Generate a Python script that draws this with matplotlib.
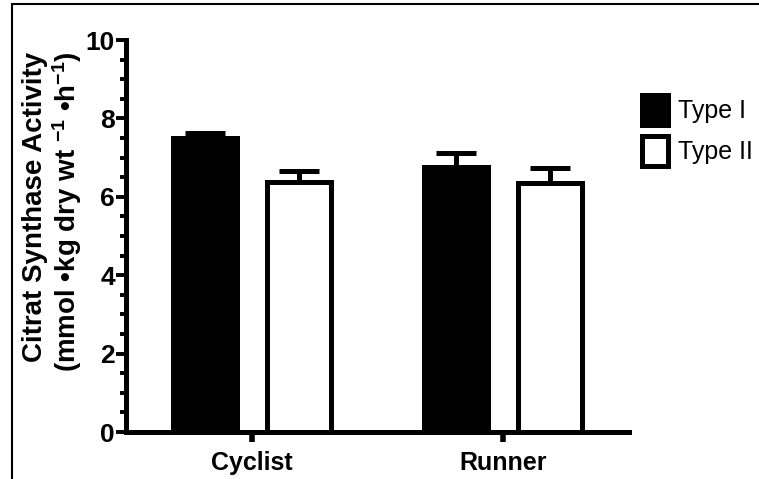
import matplotlib
matplotlib.use('Agg')
import matplotlib.pyplot as plt
import numpy as np
from matplotlib.patches import Rectangle
from matplotlib.ticker import MultipleLocator

# data
groups = ['Cyclist', 'Runner']
series = ['Type I', 'Type II']
type1 = [7.49, 6.75]
type1_err = [0.14, 0.37]
type2 = [6.39, 6.35]
type2_err = [0.28, 0.38]
yticks = [0, 2, 4, 6, 8, 10]

plt.rcParams['font.family'] = ['Liberation Sans', 'DejaVu Sans']
plt.rcParams['mathtext.fontset'] = 'custom'
plt.rcParams['mathtext.rm'] = 'Liberation Sans:bold'
plt.rcParams['mathtext.default'] = 'rm'

fig = plt.figure(figsize=(7.59, 4.79), dpi=100)
ax = fig.add_axes([0.166, 0.098, 0.6627, 0.8184])

x = np.arange(len(groups))
off = 0.1875
w = 0.254
lw = 3.6

ax.bar(x - off, type1, w, color='black', edgecolor='black', linewidth=lw,
       label=series[0], zorder=2)
ax.bar(x + off, type2, w, color='white', edgecolor='black', linewidth=lw,
       label=series[1], zorder=2)
for xs, v, e in [(x - off, type1, type1_err), (x + off, type2, type2_err)]:
    eb = ax.errorbar(xs, v, yerr=[np.zeros(len(e)), e], fmt='none', ecolor='black',
                     elinewidth=lw, capsize=14.5, capthick=lw, zorder=3)
    # only the upper cap is drawn in the original
    caps = eb.lines[1]
    caps[0].set_visible(False)

ax.set_xlim(-0.5, 1.5)
ax.set_ylim(0, 10)
ax.set_yticks(yticks)
ax.yaxis.set_minor_locator(MultipleLocator(0.5))
ax.set_xticks(x, groups)

for s in ['top', 'right']:
    ax.spines[s].set_visible(False)
for s in ['left', 'bottom']:
    ax.spines[s].set_linewidth(lw)

ax.tick_params(axis='y', which='major', direction='out', length=7, width=2.8, pad=1)
ax.tick_params(axis='y', which='minor', direction='out', length=4.5, width=2.8)
ax.tick_params(axis='x', which='major', direction='out', length=7.5, width=4, pad=6)

for lab in ax.get_yticklabels():
    lab.set_fontweight('bold')
    lab.set_fontsize(19)
for lab in ax.get_xticklabels():
    lab.set_fontweight('bold')
    lab.set_fontsize(18)

fig.text(53 / 759, 1 - 212 / 479,
         'Citrat Synthase Activity\n(mmol •kg dry wt $^{-1}$ •h$^{-1}$)',
         rotation=90, ha='center', va='center', multialignment='right',
         fontsize=20, fontweight='bold', linespacing=1.05)

fig.legend(loc='upper left', bbox_to_anchor=(642 / 759, 1 - 95 / 479),
           bbox_transform=fig.transFigure, frameon=False, borderpad=0,
           borderaxespad=0, prop={'size': 18},
           handlelength=1.05, handleheight=1.45, labelspacing=0.45,
           handletextpad=0.4)

# outer frame of the original figure (only left/top edges visible)
fig.add_artist(Rectangle((12 / 759, -0.5), 2, 0.5 + 1 - 4 / 479,
                         transform=fig.transFigure, fill=False,
                         edgecolor='black', linewidth=1.5))

fig.savefig('out.png', dpi=100)
